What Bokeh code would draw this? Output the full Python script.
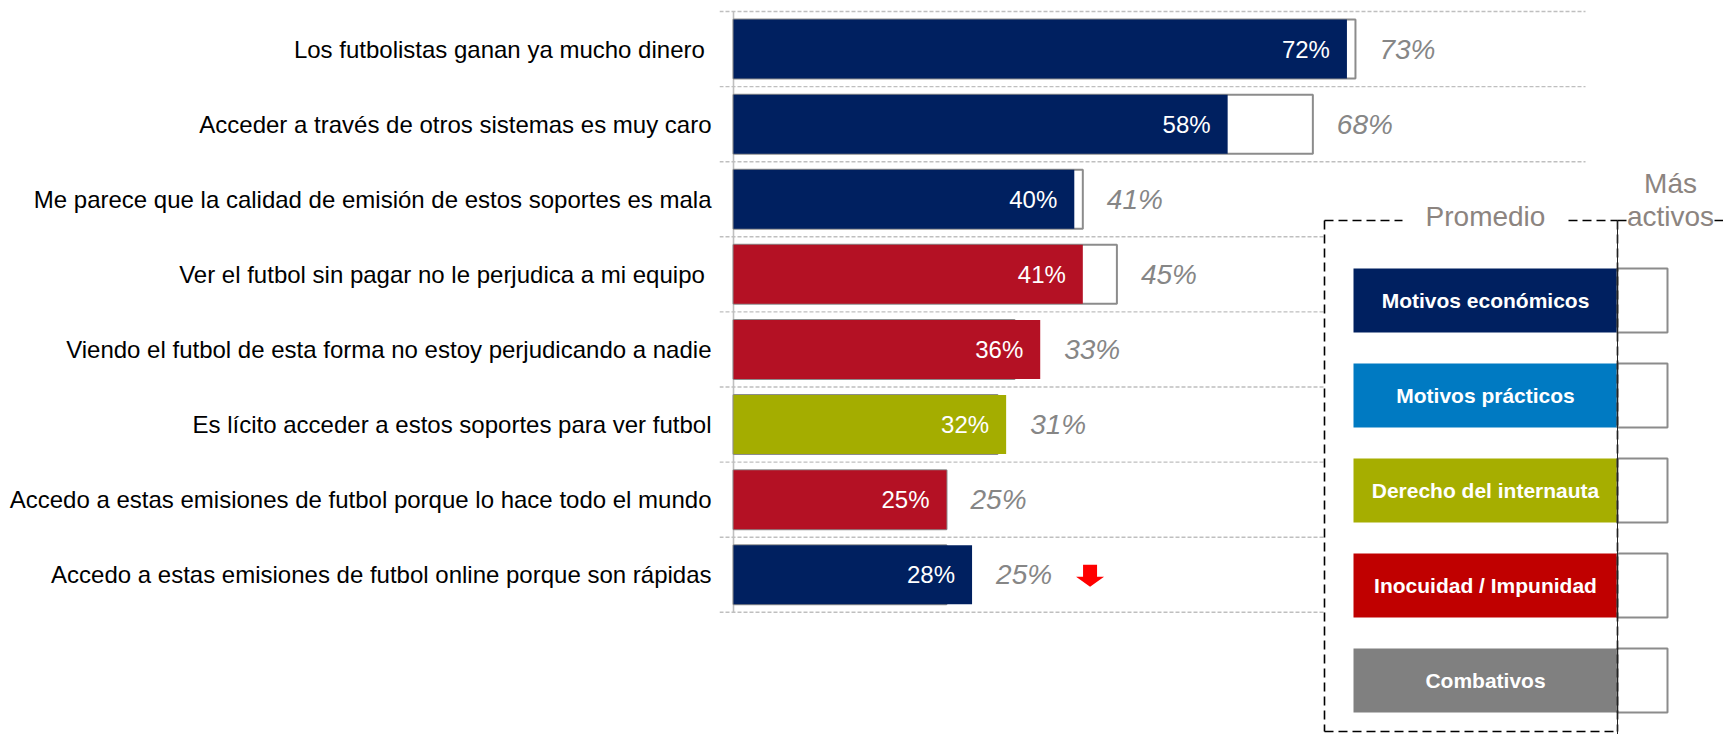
from bokeh.plotting import figure
from bokeh.models import Range1d, FixedTicker, ColumnDataSource
from bokeh.core.properties import value
from bokeh.embed import file_html
from bokeh.resources import INLINE

# ---------------- data ----------------
categories = [
    "Los futbolistas ganan ya mucho dinero ",
    "Acceder a través de otros sistemas es muy caro",
    "Me parece que la calidad de emisión de estos soportes es mala",
    "Ver el futbol sin pagar no le perjudica a mi equipo ",
    "Viendo el futbol de esta forma no estoy perjudicando a nadie",
    "Es lícito acceder a estos soportes para ver futbol",
    "Accedo a estas emisiones de futbol porque lo hace todo el mundo",
    "Accedo a estas emisiones de futbol online porque son rápidas",
]
promedio = [72, 58, 40, 41, 36, 32, 25, 28]
mas_activos = [73, 68, 41, 45, 33, 31, 25, 25]
motivo = [
    "Motivos económicos", "Motivos económicos", "Motivos económicos",
    "Inocuidad / Impunidad", "Inocuidad / Impunidad",
    "Derecho del internauta", "Inocuidad / Impunidad", "Motivos económicos",
]
tendencia = ["", "", "", "", "", "", "", "baja"]
motivos = ["Motivos económicos", "Motivos prácticos", "Derecho del internauta",
           "Inocuidad / Impunidad", "Combativos"]
titulo_promedio = "Promedio"
titulo_activos = ["Más", "activos"]

# ---------------- styles ----------------
BAR_COLORS = {
    "Motivos económicos": "#002060",
    "Motivos prácticos": "#007AC2",
    "Derecho del internauta": "#A4AD00",
    "Inocuidad / Impunidad": "#B41124",
    "Combativos": "#808080",
}
LEGEND_COLORS = {
    "Motivos económicos": "#002060",
    "Motivos prácticos": "#007AC2",
    "Derecho del internauta": "#A6AE00",
    "Inocuidad / Impunidad": "#C00000",
    "Combativos": "#808080",
}
FONT = value("Liberation Sans")
GRID = "#BFBFBF"
OUTLINE = "#8C8C8C"
ITALIC_GRAY = "#868686"
HEAD_GRAY = "#8C8480"

# ---------------- geometry (pixels -> data) ----------------
W, H = 1723, 734
AX0 = 733.0      # pixel of 0 %
PPU = 8.52       # pixels per percent
FRAME_L = 719.0
ROW0 = 48.55     # pixel centre of first row
ROWPX = 75.1     # pixels per row
BAR_H = 0.786


def X(px):
    return (px - AX0) / PPU


def Y(py):
    return (py - ROW0) / ROWPX


n = len(categories)
rows = list(range(n))

p = figure(width=W, height=H, output_backend="svg", toolbar_location=None,
           x_range=Range1d(X(FRAME_L), X(W)), y_range=Range1d(Y(H), Y(0)),
           x_axis_location=None, y_axis_location="left",
           min_border_left=int(FRAME_L), min_border_right=0,
           min_border_top=0, min_border_bottom=0)
p.outline_line_color = None
p.xgrid.visible = False
p.ygrid.visible = False
p.background_fill_color = "white"
p.border_fill_color = "white"

ax = p.yaxis[0]
ax.ticker = FixedTicker(ticks=rows)
ax.major_label_overrides = {i: c for i, c in enumerate(categories)}
ax.axis_line_color = None
ax.major_tick_line_color = None
ax.minor_tick_line_color = None
ax.major_tick_out = 0
ax.major_tick_in = 0
ax.major_label_standoff = 8
ax.major_label_text_font = "Liberation Sans"
ax.major_label_text_font_size = "24px"
ax.major_label_text_color = "#000000"

# gridlines between categories
bounds = [i - 0.5 for i in range(n + 1)]
p.segment(x0=[X(FRAME_L)] * len(bounds), x1=[100] * len(bounds), y0=bounds, y1=bounds,
          line_color=GRID, line_dash="4 2", line_width=1.4)
# axis line
p.segment(x0=[0], x1=[0], y0=[-0.5], y1=[n - 0.5], line_color=GRID, line_width=1.6)

src = ColumnDataSource(dict(
    y=rows, prom=promedio, mas=mas_activos,
    color=[BAR_COLORS[m] for m in motivo],
    lab_in=[f"{v}%" for v in promedio],
    lab_out=[f"{v}%" for v in mas_activos],
    xout=[max(a, b) for a, b in zip(promedio, mas_activos)],
))

# "Más activos" outline bars (behind)
p.hbar(y="y", left=0, right="mas", height=BAR_H, source=src,
       fill_color="white", line_color=OUTLINE, line_width=2)
# "Promedio" filled bars
p.hbar(y="y", left=0, right="prom", height=BAR_H, source=src,
       fill_color="color", line_color=None)

p.text(x="prom", y="y", text="lab_in", source=src, x_offset=-17,
       text_align="right", text_baseline="middle", text_color="white",
       text_font=FONT, text_font_size="24px")
p.text(x="xout", y="y", text="lab_out", source=src, x_offset=24,
       text_align="left", text_baseline="middle", text_color=ITALIC_GRAY,
       text_font=FONT, text_font_size="28px", text_font_style="italic")

# down arrows
for i, t in enumerate(tendencia):
    if t == "baja":
        lx = AX0 + PPU * max(promedio[i], mas_activos[i]) + 24
        cx = lx + 94
        cy = ROW0 + i * ROWPX
        pts = [(cx - 7, cy - 10), (cx + 7, cy - 10), (cx + 7, cy + 2), (cx + 14, cy + 2),
               (cx, cy + 12), (cx - 14, cy + 2), (cx - 7, cy + 2)]
        p.patch(x=[X(a) for a, b in pts], y=[Y(b) for a, b in pts],
                fill_color="#FF0000", line_color=None)

# ---------------- legend ----------------
BOX_L, BOX_R, BOX_T, BOX_B = 1324, 1617, 220, 731
p.quad(left=[X(BOX_L)], right=[X(BOX_R)], top=[Y(BOX_T)], bottom=[Y(H)],
       fill_color="white", line_color=None)

ITEM_T0, ITEM_STEP, ITEM_H = 268, 95.0, 64
for k, name in enumerate(motivos):
    t = ITEM_T0 + k * ITEM_STEP
    b = t + ITEM_H
    p.quad(left=[X(1353)], right=[X(BOX_R)], top=[Y(t)], bottom=[Y(b)],
           fill_color=LEGEND_COLORS[name], line_color=None)
    p.quad(left=[X(BOX_R)], right=[X(1667)], top=[Y(t)], bottom=[Y(b)],
           fill_color="white", line_color=OUTLINE, line_width=2)
    p.text(x=[X(1485)], y=[Y((t + b) / 2)], text=[name], text_align="center",
           text_baseline="middle", text_color="white", text_font=FONT,
           text_font_size="21px", text_font_style="bold")

dash_xs = [[X(BOX_L), X(1402)], [X(1568), X(BOX_R)], [X(BOX_R), X(1626)], [X(1714), X(W)],
           [X(BOX_L), X(BOX_L)], [X(BOX_R), X(BOX_R)], [X(BOX_L), X(BOX_R)]]
dash_ys = [[Y(BOX_T)] * 2, [Y(BOX_T)] * 2, [Y(BOX_T)] * 2, [Y(BOX_T)] * 2,
           [Y(BOX_T), Y(BOX_B)], [Y(BOX_T), Y(BOX_B)], [Y(BOX_B)] * 2]
p.multi_line(xs=dash_xs, ys=dash_ys, line_color="black", line_dash="9 5", line_width=1.6)
p.segment(x0=[X(BOX_R)], x1=[X(BOX_R)], y0=[Y(BOX_T)], y1=[Y(H)],
          line_color="#222222", line_width=1)

p.text(x=[X(1485)], y=[Y(216)], text=[titulo_promedio], text_align="center",
       text_baseline="alphabetic", text_color=HEAD_GRAY, text_font=FONT,
       text_font_size="28px")
p.text(x=[X(1670), X(1670)], y=[Y(183), Y(216)], text=titulo_activos, text_align="center",
       text_baseline="alphabetic", text_color=HEAD_GRAY, text_font=FONT,
       text_font_size="28px")

with open("out.html", "w", encoding="utf-8") as f:
    f.write(file_html(p, INLINE))
